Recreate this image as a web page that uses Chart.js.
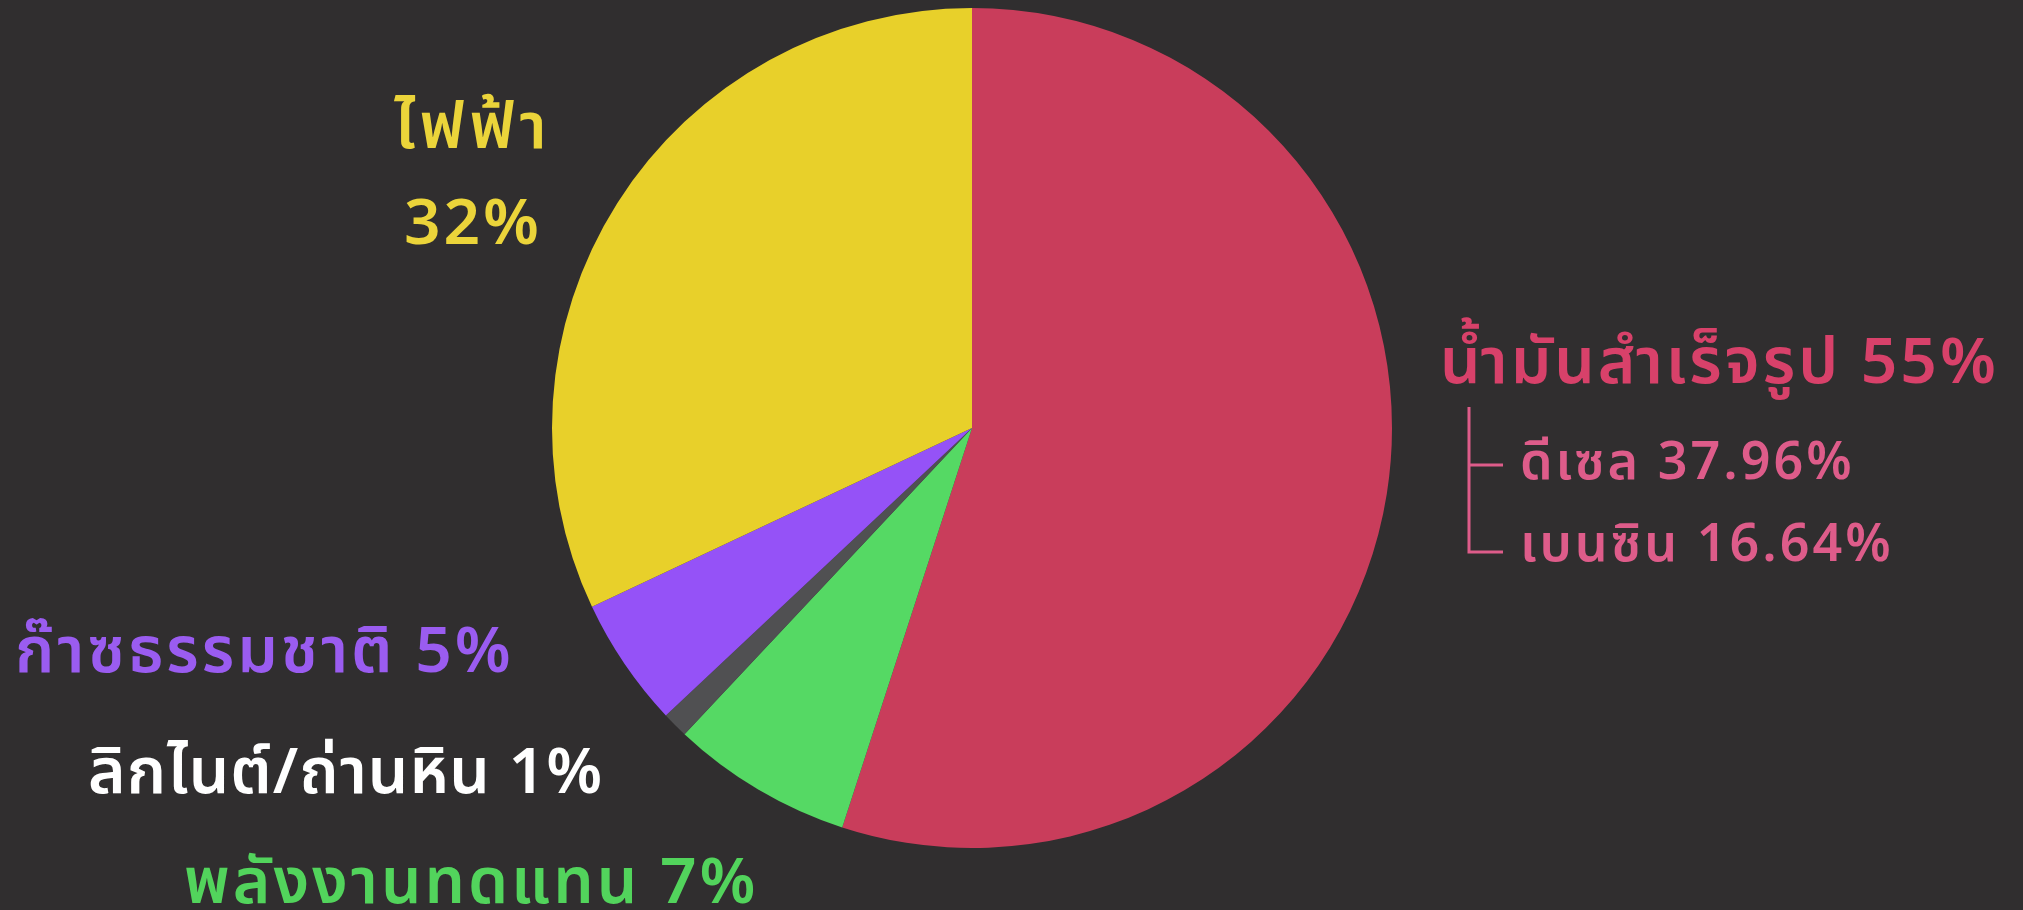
<!DOCTYPE html>
<html>
<head>
<meta charset="utf-8">
<script src="https://cdn.jsdelivr.net/npm/chart.js@4.4.0/dist/chart.umd.min.js"></script>
<style>
  html, body { margin: 0; padding: 0; background: #302e2f; }
  #wrap { width: 2023px; height: 910px; }
</style>
</head>
<body>
<div id="wrap"><canvas id="pieChart" width="2023" height="910"></canvas></div>
<script>
// energy share by source (%)
const categories = ["น้ำมันสำเร็จรูป", "พลังงานทดแทน", "ลิกไนต์/ถ่านหิน", "ก๊าซธรรมชาติ", "ไฟฟ้า"];
const shares = [55, 7, 1, 5, 32];
const sliceColors = ["#c93d5b", "#55d964", "#505052", "#9552f7", "#e8d02a"];
const textColors = ["#d8416a", "#52d45c", "#ffffff", "#9a5cf0", "#ebd43a"];

// breakdown of petroleum products
const oilParts = ["ดีเซล", "เบนซิน"];
const oilShares = [37.96, 16.64];
const oilSubColor = "#de5c8a";

const thaiFont = '"Noto Sans Thai", "Noto Sans", "DejaVu Sans", sans-serif';

const labelPlugin = {
  id: "sliceLabels",
  afterDraw(chart) {
    const ctx = chart.ctx;
    ctx.save();
    ctx.textBaseline = "middle";
    ctx.letterSpacing = "3px";
    ctx.font = `600 64px ${thaiFont}`;

    // oil (red)
    ctx.fillStyle = textColors[0];
    ctx.textAlign = "left";
    ctx.fillText(categories[0] + " " + shares[0] + "%", 1440, 370);

    ctx.font = `600 52px ${thaiFont}`;
    ctx.fillStyle = oilSubColor;
    ctx.fillText(oilParts[0] + " " + oilShares[0].toFixed(2) + "%", 1520, 468);
    ctx.fillText(oilParts[1] + " " + oilShares[1].toFixed(2) + "%", 1520, 550);

    // bracket joining the sub-items
    ctx.strokeStyle = oilSubColor;
    ctx.lineWidth = 3;
    ctx.beginPath();
    ctx.moveTo(1469, 407);
    ctx.lineTo(1469, 552);
    ctx.lineTo(1503, 552);
    ctx.moveTo(1469, 465);
    ctx.lineTo(1503, 465);
    ctx.stroke();

    // electricity (yellow), two lines centred
    ctx.font = `600 64px ${thaiFont}`;
    ctx.fillStyle = textColors[4];
    ctx.textAlign = "center";
    ctx.letterSpacing = "5px";
    ctx.fillText(categories[4], 473, 135);
    ctx.letterSpacing = "3px";
    ctx.fillText(shares[4] + "%", 473, 231);

    // left-hand labels
    ctx.textAlign = "left";
    ctx.fillStyle = textColors[3];
    ctx.fillText(categories[3] + " " + shares[3] + "%", 15, 659);
    ctx.fillStyle = textColors[2];
    ctx.letterSpacing = "1px";
    ctx.fillText(categories[2] + " " + shares[2] + "%", 88, 780);
    ctx.letterSpacing = "3px";
    ctx.fillStyle = textColors[1];
    ctx.fillText(categories[1] + " " + shares[1] + "%", 184, 890);

    ctx.restore();
  }
};

new Chart(document.getElementById("pieChart"), {
  type: "pie",
  data: {
    labels: categories,
    datasets: [{
      data: shares,
      backgroundColor: sliceColors,
      borderWidth: 0
    }]
  },
  options: {
    responsive: false,
    animation: false,
    layout: { padding: { left: 552, right: 631, top: 8, bottom: 62 } },
    plugins: {
      legend: { display: false },
      tooltip: { enabled: false }
    }
  },
  plugins: [labelPlugin]
});
</script>
</body>
</html>
